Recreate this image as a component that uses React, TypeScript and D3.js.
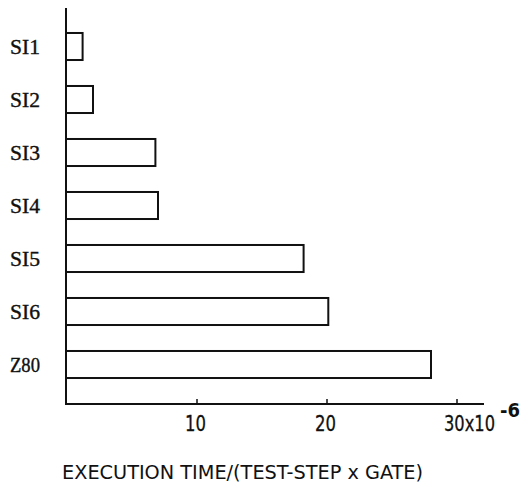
import React from 'react';
import * as d3 from 'd3';

const categories = ['SI1', 'SI2', 'SI3', 'SI4', 'SI5', 'SI6', 'Z80'];
const times = [1.2, 2.0, 6.8, 7.0, 18.2, 20.1, 28.0];
const tickValues = [10, 20, 30];
const tickLabels = ['10', '20', '30x10'];
const exponentLabel = '-6';
const axisTitle = 'EXECUTION TIME/(TEST-STEP x GATE)';

const W = 523;
const H = 495;

export default function App() {
  const x = d3.scaleLinear().domain([0, 30]).range([67, 457]);
  const y = d3.scaleBand<string>()
    .domain(categories)
    .range([20, 391])
    .paddingInner(0.49)
    .paddingOuter(0.245);

  const axisY = 404;
  const sans = '"DejaVu Sans Condensed", "DejaVu Sans", sans-serif';
  const serif = '"Liberation Serif", "DejaVu Serif", serif';

  return (
    <div style={{ position: 'absolute', left: 0, top: 0 }}>
      <svg width={W} height={H} style={{ display: 'block', background: '#fff' }}>
        {/* y axis line */}
        <line x1={66} x2={66} y1={8} y2={axisY + 1} stroke="#111" strokeWidth={2} />
        {/* x axis line */}
        <line x1={66} x2={484} y1={axisY} y2={axisY} stroke="#111" strokeWidth={2} />

        {tickValues.map((t, i) => (
          <g key={t}>
            <line x1={x(t)} x2={x(t)} y1={axisY} y2={axisY - 5} stroke="#111" strokeWidth={1.5} />
            <text
              x={i < 2 ? x(t) - 12 : x(t) - 13}
              y={431}
              fontFamily={sans}
              fontSize={21}
              textLength={i < 2 ? 21 : 51}
              lengthAdjust="spacingAndGlyphs"
              stroke="#111"
              strokeWidth={0.3}
              fill="#111"
            >
              {tickLabels[i]}
            </text>
          </g>
        ))}
        <text x={500} y={417} fontFamily={sans} fontSize={19} fontWeight="bold" textLength={20} lengthAdjust="spacingAndGlyphs" fill="#111">
          {exponentLabel}
        </text>

        {categories.map((c, i) => (
          <g key={c}>
            <rect
              x={x(0) - 1}
              y={y(c)}
              width={x(times[i]) - x(0) + 1}
              height={y.bandwidth()}
              fill="#fff"
              stroke="#111"
              strokeWidth={2}
            />
            <text
              x={10}
              y={(y(c) ?? 0) + y.bandwidth() / 2 + 7.5}
              fontFamily={serif}
              fontSize={22}
              textLength={30}
              lengthAdjust="spacingAndGlyphs"
              stroke="#111"
              strokeWidth={0.4}
              fill="#111"
            >
              {c}
            </text>
          </g>
        ))}

        <text
          x={62}
          y={479}
          fontFamily={sans}
          fontSize={19}
          textLength={361}
          lengthAdjust="spacingAndGlyphs"
          fill="#111"
        >
          {axisTitle}
        </text>
      </svg>
    </div>
  );
}
